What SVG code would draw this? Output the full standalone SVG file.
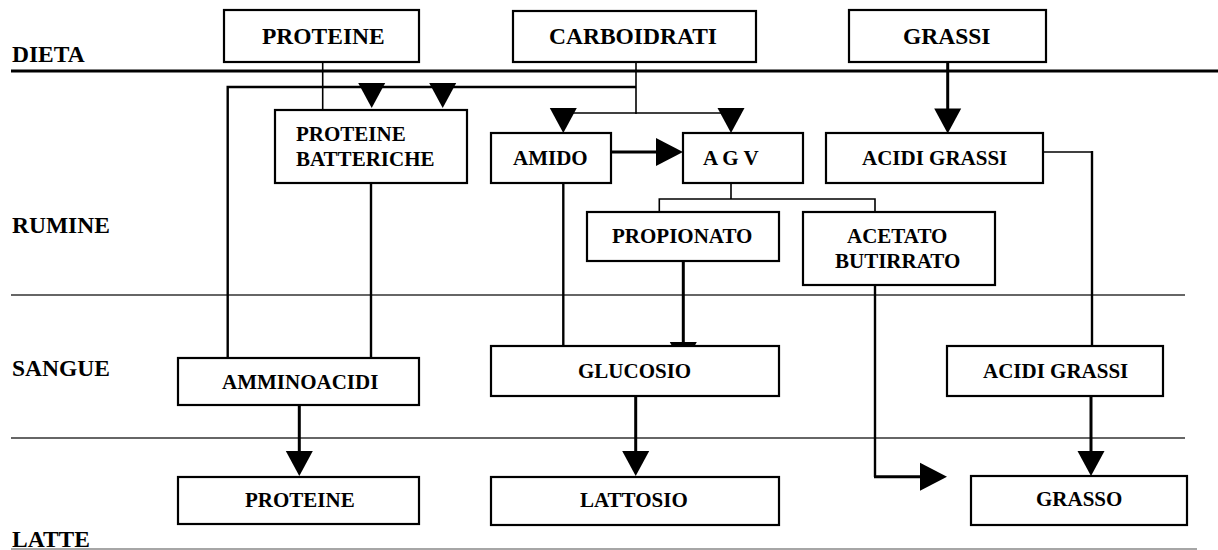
<svg xmlns="http://www.w3.org/2000/svg" width="1218" height="550" viewBox="0 0 1218 550">
<style>
.bx{fill:#fff;stroke:#000;stroke-width:2.2}
.t{font-family:"Liberation Serif","Times New Roman",serif;font-weight:bold;fill:#000}
.lg{font-size:23.5px}
.md{font-size:21px}
.c{fill:none;stroke:#000}
.thin{stroke-width:1.6}
.mid{stroke-width:2.4}
.thk{stroke-width:3}
.zone{stroke:#333;stroke-width:1.5}
</style>
<defs>
<path id="ad" d="M-13.5,-25 L13.5,-25 L0,0 Z" fill="#000"/>
<path id="ar" d="M-27,-14 L-27,14 L0,0 Z" fill="#000"/>
</defs>
<rect width="1218" height="550" fill="#fff"/>
<g id="zones">
<line x1="11" y1="71" x2="1218" y2="71" stroke="#000" stroke-width="3"/>
<line x1="11" y1="295" x2="1185" y2="295" class="zone"/>
<line x1="11" y1="438" x2="1185" y2="438" class="zone"/>
<line x1="11" y1="549" x2="1197" y2="549" stroke="#888" stroke-width="1.5"/>
<text class="t lg" x="12" y="62">DIETA</text>
<text class="t lg" x="12" y="233">RUMINE</text>
<text class="t lg" x="12" y="376">SANGUE</text>
<text class="t lg" x="12" y="547">LATTE</text>
</g>
<g id="connectors">
<line class="c thin" x1="322.7" y1="62" x2="322.7" y2="110"/>
<line class="c thin" x1="636" y1="62" x2="636" y2="114"/>
<polyline class="c mid" points="227.7,358 227.7,87 636,87"/>
<use href="#ad" x="371.7" y="108"/>
<use href="#ad" x="442.7" y="108"/>
<line class="c thin" x1="563" y1="113" x2="731" y2="113"/>
<use href="#ad" x="563.3" y="133"/>
<use href="#ad" x="731" y="133"/>
<line class="c mid" x1="371" y1="175" x2="371" y2="358"/>
<line class="c mid" x1="563.3" y1="176" x2="563.3" y2="346"/>
<line class="c thk" x1="611" y1="152" x2="657" y2="152"/>
<use href="#ar" x="683" y="152"/>
<line class="c thk" x1="947.7" y1="62" x2="947.7" y2="110"/>
<use href="#ad" x="947.7" y="133.5"/>
<line class="c thin" x1="731" y1="183" x2="731" y2="199"/>
<polyline class="c thin" points="659.3,212 659.3,199 875,199 875,212"/>
<line class="c thk" x1="683.3" y1="261" x2="683.3" y2="350"/>
<use href="#ad" x="683.3" y="367"/>
<polyline class="c thin" points="1043,152 1092,152"/>
<line class="c mid" x1="1092" y1="151" x2="1092" y2="346"/>
<line class="c mid" x1="875" y1="285" x2="875" y2="477"/>
<line class="c thk" x1="874" y1="476.7" x2="921" y2="476.7"/>
<use href="#ar" x="947" y="476.7"/>
<line class="c thk" x1="299.3" y1="405" x2="299.3" y2="452"/>
<use href="#ad" x="299.3" y="476"/>
<line class="c thk" x1="635.7" y1="396" x2="635.7" y2="452"/>
<use href="#ad" x="635.7" y="476"/>
<line class="c thk" x1="1091" y1="396" x2="1091" y2="452"/>
<use href="#ad" x="1091" y="476"/>
</g>
<g id="n-proteine-dieta"><rect class="bx" x="224" y="10" width="195" height="52"/><text class="t lg" x="262" y="44">PROTEINE</text></g>
<g id="n-carboidrati"><rect class="bx" x="513" y="11" width="243" height="51"/><text class="t lg" x="549" y="44">CARBOIDRATI</text></g>
<g id="n-grassi"><rect class="bx" x="849" y="10" width="197" height="52"/><text class="t lg" x="903" y="44">GRASSI</text></g>
<g id="n-proteine-batteriche"><rect class="bx" x="275" y="110" width="192" height="73"/><text class="t md" x="296" y="141">PROTEINE</text><text class="t md" x="296" y="166">BATTERICHE</text></g>
<g id="n-amido"><rect class="bx" x="491" y="133" width="120" height="50"/><text class="t md" x="513" y="165">AMIDO</text></g>
<g id="n-agv"><rect class="bx" x="683" y="133" width="120" height="50"/><text class="t md" x="703" y="165">A G V</text></g>
<g id="n-acidi-grassi-rumine"><rect class="bx" x="826" y="133" width="217" height="50"/><text class="t md" x="862" y="165">ACIDI GRASSI</text></g>
<g id="n-propionato"><rect class="bx" x="587" y="212" width="192" height="49"/><text class="t md" x="612" y="243">PROPIONATO</text></g>
<g id="n-acetato-butirrato"><rect class="bx" x="803" y="212" width="192" height="73"/><text class="t md" x="847" y="243">ACETATO</text><text class="t md" x="835" y="268">BUTIRRATO</text></g>
<g id="n-amminoacidi"><rect class="bx" x="178" y="358" width="241" height="47"/><text class="t md" x="222" y="389">AMMINOACIDI</text></g>
<g id="n-glucosio"><rect class="bx" x="491" y="346" width="288" height="50"/><text class="t md" x="578" y="378">GLUCOSIO</text></g>
<g id="n-acidi-grassi-sangue"><rect class="bx" x="947" y="346" width="216" height="50"/><text class="t md" x="983" y="378">ACIDI GRASSI</text></g>
<g id="n-proteine-latte"><rect class="bx" x="178" y="477" width="241" height="47"/><text class="t md" x="245" y="507">PROTEINE</text></g>
<g id="n-lattosio"><rect class="bx" x="491" y="477" width="288" height="48"/><text class="t md" x="580" y="507">LATTOSIO</text></g>
<g id="n-grasso"><rect class="bx" x="971" y="476" width="216" height="49"/><text class="t md" x="1036" y="506">GRASSO</text></g>
</svg>
